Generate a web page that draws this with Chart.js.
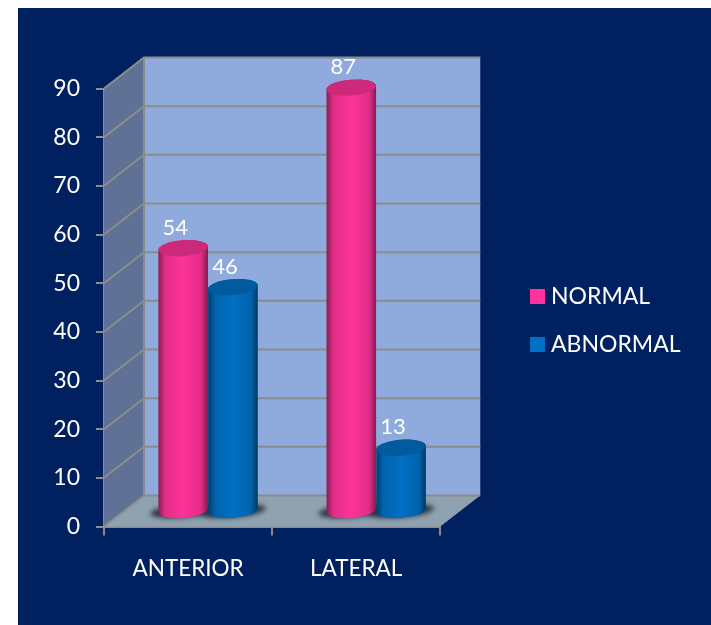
<!DOCTYPE html>
<html>
<head>
<meta charset="utf-8">
<style>
  html, body { margin: 0; padding: 0; background: #fff; }
  canvas { display: block; }
</style>
<script src="https://cdn.jsdelivr.net/npm/chart.js@4/dist/chart.umd.js"></script>
</head>
<body>
<canvas id="chart" width="711" height="625"></canvas>
<script>
const categories = ['ANTERIOR', 'LATERAL'];
const normalValues = [54, 87];
const abnormalValues = [46, 13];
const valueTicks = [0, 10, 20, 30, 40, 50, 60, 70, 80, 90];

const PANEL = '#002060';
const PINK = '#ff3399';
const BLUE = '#0070c4';
const WALL = '#8faadc';
const SIDE = '#5f7195';
const FLOOR = '#8fa2b0';
const GRID = '#8c8c8c';
const FONT = 'Lato, Carlito, sans-serif';

// The 3D box is a skewed prism: the back wall sits this far behind the front plane,
// and the cylinders stand half way into it.
const DEPTH_X = 40, DEPTH_Y = -31;
const MID_X = DEPTH_X / 2, MID_Y = DEPTH_Y / 2;
const CAP_TILT = -0.08, CAP_RY = 8;

function shade(hex, keep) {
  const n = parseInt(hex.slice(1), 16);
  const c = [n >> 16, (n >> 8) & 255, n & 255].map(v => Math.round(v * keep));
  return `rgb(${c[0]},${c[1]},${c[2]})`;
}

// Square legend key; a canvas point style lets the label sit closer to it.
function legendSwatch(color) {
  const c = document.createElement('canvas');
  c.width = 15;
  c.height = 15;
  const g = c.getContext('2d');
  g.fillStyle = color;
  g.fillRect(0, 0, 15, 15);
  return c;
}

// Bars rendered as shaded cylinders, still positioned by the bar controller.
class CylinderBar extends Chart.BarElement {
  static id = 'cylinderBar';
  draw(ctx) {
    const { x, y, base, width } = this.getProps(['x', 'y', 'base', 'width']);
    const color = this.options.backgroundColor;
    const cx = x + MID_X, top = y + MID_Y, bottom = base + MID_Y, rx = width / 2;
    const grad = ctx.createLinearGradient(cx - rx, 0, cx + rx, 0);
    grad.addColorStop(0, shade(color, 0.55));
    grad.addColorStop(0.14, shade(color, 0.88));
    grad.addColorStop(0.5, shade(color, 1));
    grad.addColorStop(0.86, shade(color, 0.88));
    grad.addColorStop(1, shade(color, 0.5));
    ctx.save();
    ctx.beginPath();
    ctx.ellipse(cx, top, rx, CAP_RY, CAP_TILT, Math.PI, 0, false);
    ctx.ellipse(cx, bottom, rx, CAP_RY, CAP_TILT, 0, Math.PI, false);
    ctx.closePath();
    ctx.fillStyle = grad;
    ctx.fill();
    ctx.beginPath();
    ctx.ellipse(cx, top, rx, CAP_RY, CAP_TILT, 0, Math.PI * 2);
    ctx.fillStyle = shade(color, 0.8);
    ctx.fill();
    ctx.restore();
  }
}
Chart.register(CylinderBar);
Chart.defaults.datasets.bar.dataElementType = 'cylinderBar';

const boxPlugin = {
  id: 'box3d',
  afterLayout(chart) {
    const lg = chart.legend;
    const h = lg.bottom - lg.top;
    lg.left = 510.5; lg.right = 711;
    lg.top = 260; lg.bottom = 260 + h;
  },
  beforeDraw(chart) {
    const { ctx, width, height } = chart;
    ctx.save();
    ctx.fillStyle = '#ffffff';
    ctx.fillRect(0, 0, width, height);
    ctx.fillStyle = PANEL;
    ctx.fillRect(18, 8, width - 18, height - 8);
    ctx.restore();
  },
  beforeDatasetsDraw(chart) {
    const { ctx, chartArea: a, scales: { y: ys } } = chart;
    const dx = DEPTH_X, dy = DEPTH_Y;
    const poly = (pts, fill) => {
      ctx.beginPath();
      pts.forEach((p, i) => i ? ctx.lineTo(p[0], p[1]) : ctx.moveTo(p[0], p[1]));
      ctx.closePath();
      ctx.fillStyle = fill;
      ctx.fill();
    };
    ctx.save();
    // back wall, side wall and floor
    poly([[a.left + dx, a.top + dy], [a.right + dx, a.top + dy], [a.right + dx, a.bottom + dy], [a.left + dx, a.bottom + dy]], WALL);
    poly([[a.left, a.top], [a.left + dx, a.top + dy], [a.left + dx, a.bottom + dy], [a.left, a.bottom]], SIDE);
    poly([[a.left, a.bottom], [a.left + dx, a.bottom + dy], [a.right + dx, a.bottom + dy], [a.right, a.bottom]], FLOOR);
    // grid lines run along the side wall and across the back wall
    ctx.strokeStyle = GRID;
    ctx.lineWidth = 2;
    valueTicks.forEach(v => {
      const py = ys.getPixelForValue(v);
      ctx.beginPath();
      ctx.moveTo(a.left, py);
      ctx.lineTo(a.left + dx, py + dy);
      ctx.lineTo(a.right + dx, py + dy);
      ctx.stroke();
    });
    ctx.beginPath();
    ctx.moveTo(a.left + dx, a.top + dy);
    ctx.lineTo(a.left + dx, a.bottom + dy);
    ctx.stroke();
    // soft contact shadows under each cylinder
    ctx.filter = 'blur(2.5px)';
    ctx.fillStyle = '#2b343f';
    chart.data.datasets.forEach((ds, di) => {
      chart.getDatasetMeta(di).data.forEach(bar => {
        ctx.beginPath();
        ctx.ellipse(bar.x + MID_X, bar.base + MID_Y + 1, bar.width / 2 + 8, 6.5, CAP_TILT, 0, Math.PI * 2);
        ctx.fill();
      });
    });
    ctx.restore();
  },
  afterDatasetsDraw(chart) {
    const { ctx } = chart;
    ctx.save();
    ctx.fillStyle = '#ffffff';
    ctx.font = `22px ${FONT}`;
    ctx.textAlign = 'center';
    ctx.textBaseline = 'middle';
    chart.data.datasets.forEach((ds, di) => {
      chart.getDatasetMeta(di).data.forEach((bar, i) => {
        ctx.fillText(String(ds.data[i]), bar.x + MID_X - 8, bar.y + MID_Y - 20.5);
      });
    });
    ctx.restore();
  }
};

new Chart(document.getElementById('chart'), {
  type: 'bar',
  data: {
    labels: categories,
    datasets: [
      { label: 'NORMAL', data: normalValues, backgroundColor: PINK, clip: false,
        categoryPercentage: 0.592, barPercentage: 1 },
      { label: 'ABNORMAL', data: abnormalValues, backgroundColor: BLUE, clip: false,
        categoryPercentage: 0.592, barPercentage: 1 }
    ]
  },
  plugins: [boxPlugin],
  options: {
    responsive: false,
    animation: false,
    events: [],
    layout: { padding: { top: 88.5, left: 0, right: 124, bottom: 0 } },
    plugins: {
      title: { display: false },
      tooltip: { enabled: false },
      legend: {
        position: 'right',
        align: 'start',
        labels: {
          color: '#ffffff',
          font: { family: FONT, size: 23 },
          usePointStyle: true,
          pointStyleWidth: 4,
          padding: 25,
          generateLabels(chart) {
            return Chart.defaults.plugins.legend.labels.generateLabels(chart)
              .map(item => ({ ...item, pointStyle: legendSwatch(item.fillStyle) }));
          }
        }
      }
    },
    scales: {
      x: {
        afterFit(s) { s.height = 98.5; },
        grid: { drawOnChartArea: false, drawTicks: true, tickLength: 9, color: GRID, lineWidth: 2 },
        border: { display: true, color: GRID, width: 2 },
        ticks: { color: '#ffffff', font: { family: FONT, size: 22.5 }, padding: 20, maxRotation: 0 }
      },
      y: {
        min: 0,
        max: 90,
        afterFit(s) { s.width = 104; },
        afterBuildTicks(s) { s.ticks = valueTicks.map(value => ({ value })); },
        grid: { drawOnChartArea: false, drawTicks: true, tickLength: 8, color: GRID, lineWidth: 2 },
        border: { display: true, color: GRID, width: 2 },
        ticks: { color: '#ffffff', font: { family: FONT, size: 23 }, padding: 16 }
      }
    }
  }
});
</script>
</body>
</html>
